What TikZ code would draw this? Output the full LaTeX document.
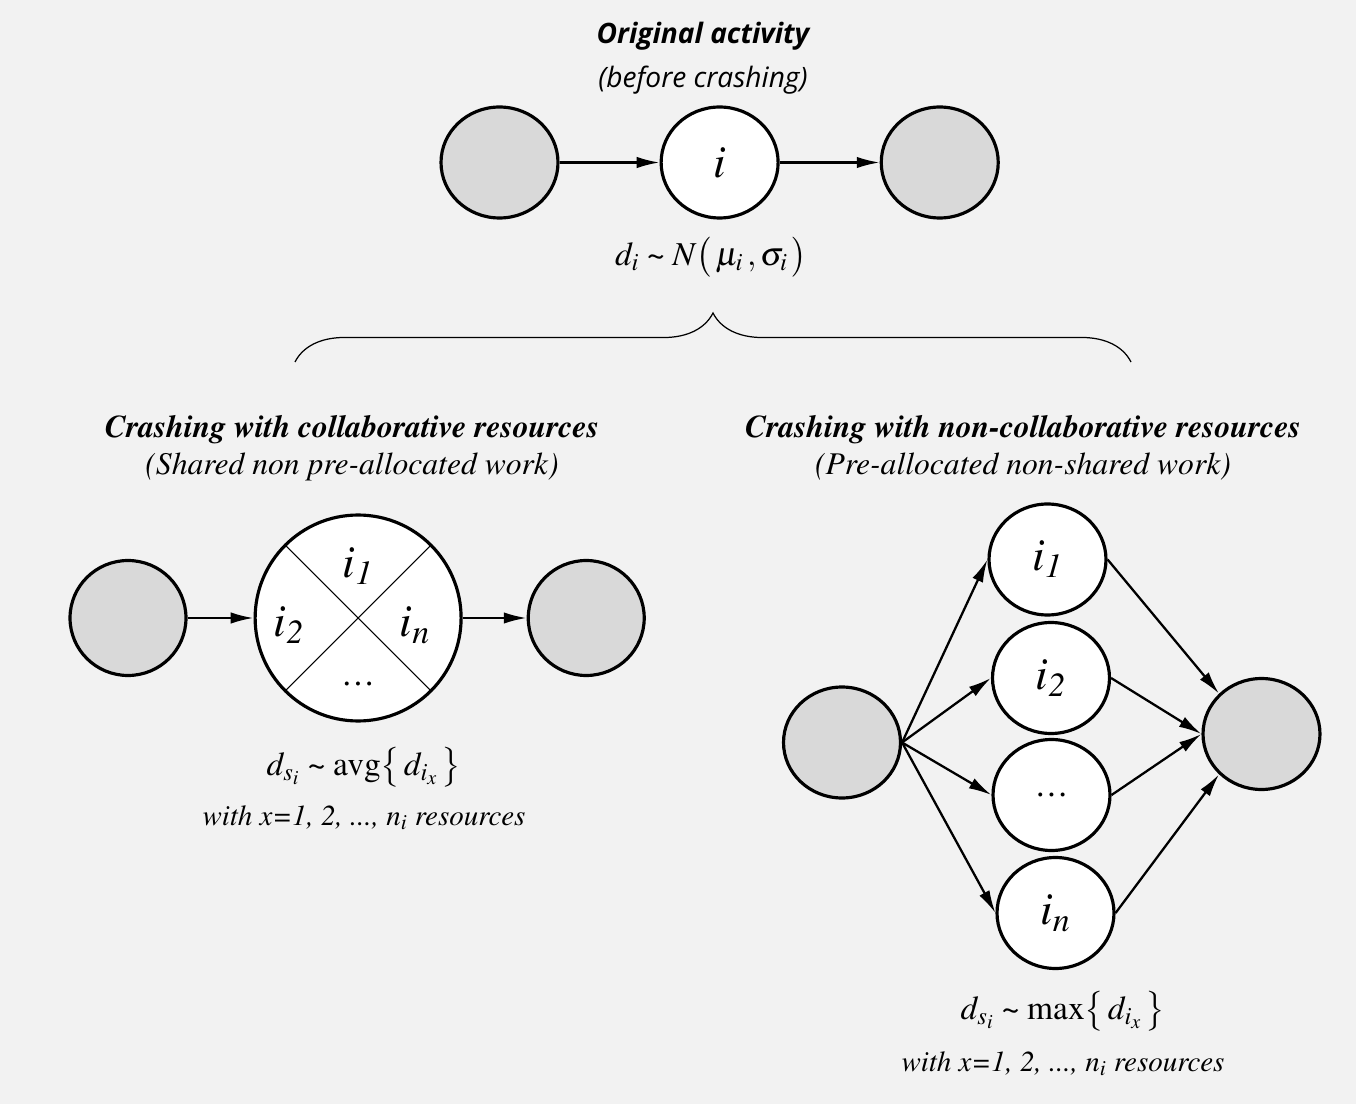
\documentclass[tikz,border=0pt]{standalone}
\usepackage{mathptmx}
\usepackage{fontspec}
\setmainfont{Liberation Serif}
\newfontfamily\headfont{Open Sans}
\newcommand{\serif}{\fontencoding{T1}\fontfamily{ptm}\selectfont}
\usetikzlibrary{arrows.meta,positioning,shapes.geometric,decorations.pathreplacing}
\definecolor{canvas}{HTML}{F2F2F2}
\definecolor{evgray}{HTML}{D9D9D9}
\newcommand{\distto}{\mathrel{\mbox{\serif\textasciitilde}}}

\begin{document}
\begin{tikzpicture}[
  x=0.02cm, y=-0.02cm,
  node distance=2cm,
  event/.style={draw, ellipse, line width=1.8pt, fill=evgray, minimum width=2.34cm, minimum height=2.22cm, inner sep=0pt},
  act/.style={event, fill=white, font=\fontsize{26}{26}\selectfont},
  pool/.style={draw, circle, line width=1.8pt, fill=white, minimum size=4.12cm, inner sep=0pt},
  arr/.style={-{Latex[length=13pt,width=6.5pt]}, line width=1.3pt},
  brace/.style={decorate, decoration={brace, amplitude=0.98cm}, line width=0.7pt},
  head/.style={align=center, font=\headfont\fontsize{16}{25}\selectfont\itshape},
  title/.style={align=center, font=\serif\fontsize{18}{21}\selectfont\itshape},
  eq/.style={font=\fontsize{19}{22}\selectfont},
  note/.style={font=\serif\fontsize{16.5}{20}\selectfont\itshape},
  lbl/.style={font=\fontsize{26}{26}\selectfont, inner sep=0pt},
]
\path[use as bounding box, fill=canvas] (0,0) rectangle (1356,1104);

% --- Original activity ---
\node[head] (toptitle) at (703,58) {\textbf{Original activity}\\(before crashing)};
\node[event] (pre) at (499.5,162.5) {};
\node[act, right=of pre] (act) {$i$};
\node[event, right=of act] (suc) {};
\draw[arr] (pre) -- (act);
\draw[arr] (act) -- (suc);
\node[eq] (dist) at (711,257) {$d_i \distto N\bigl(\,\mu_i\,,\sigma_i\,\bigr)$};

\draw[brace] (295,362) -- (1131,362);

% --- Collaborative resources ---
\node[title] (coltitle) at (352,448) {\textbf{Crashing with collaborative resources}\\(Shared non pre-allocated work)};
\node[event, minimum width=2.32cm, minimum height=2.3cm] (cpre) at (128,618) {};
\node[pool, right=1.32cm of cpre] (pool) {};
\node[event, minimum width=2.32cm, minimum height=2.3cm, right=1.28cm of pool] (csuc) {};
\draw[line width=0.6pt] (pool.north west) -- (pool.south east);
\draw[line width=0.6pt] (pool.north east) -- (pool.south west);
\node[lbl] (p1) at (358,566) {$i_{\mathit{1}}$};
\node[lbl] (p2) at (289,625) {$i_{\mathit{2}}$};
\node[lbl] (pn) at (415,625) {$i_{n}$};
\node[lbl, font=\fontsize{19}{19}\selectfont] (pdots) at (358,684) {\ldots};
\draw[arr] (cpre) -- (pool);
\draw[arr] (pool) -- (csuc);
\node[eq] (avg) at (364,767) {$d_{s_i} \distto \mathrm{avg}\bigl\{\, d_{i_x} \,\bigr\}$};
\node[note] (avgnote) at (364,818) {with x=1, 2, ..., n\textsubscript{i} resources};

% --- Non-collaborative resources ---
\node[title] (ncoltitle) at (1023,448) {\textbf{Crashing with non-collaborative resources}\\(Pre-allocated non-shared work)};
\node[event] (src) at (842,742.5) {};
\node[act] (n1) at (1047.5,559.5) {$i_{\mathit{1}}$};
\node[act] (n2) at (1051,678) {$i_{\mathit{2}}$};
\node[act] (n3) at (1051.5,795) {\fontsize{19}{19}\selectfont\ldots};
\node[act] (nn) at (1055.5,913) {$i_{n}$};
\node[event] (snk) at (1261.5,734) {};
\foreach \n in {n1,n2,n3,nn}
  \draw[arr] (src.east) -- (\n.west);
\draw[arr] (n1.east) -- (snk.north west);
\draw[arr] (n2.east) -- (snk.west);
\draw[arr] (n3.east) -- (snk.west);
\draw[arr] (nn.east) -- (snk.south west);
\node[eq] (max) at (1063,1011) {$d_{s_i} \distto \max\bigl\{\, d_{i_x} \,\bigr\}$};
\node[note] (maxnote) at (1063,1064) {with x=1, 2, ..., n\textsubscript{i} resources};
\end{tikzpicture}
\end{document}
